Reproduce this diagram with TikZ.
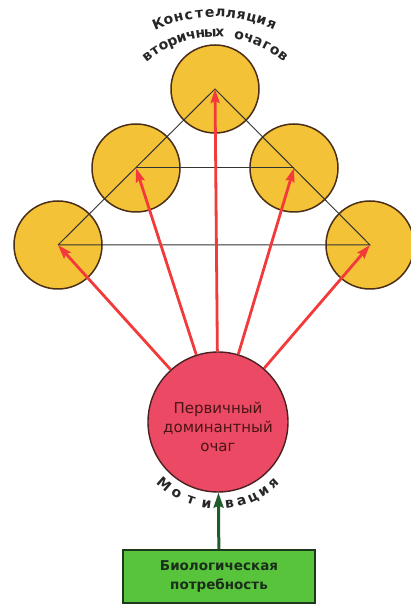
\documentclass[tikz,border=0pt]{standalone}
\usepackage{fontspec}
\setmainfont{DejaVu Sans}
\usetikzlibrary{positioning, arrows.meta, calc}
\definecolor{focfill}{HTML}{F4C236}
\definecolor{focline}{HTML}{4A2E16}
\definecolor{domfill}{HTML}{EC4A64}
\definecolor{domline}{HTML}{4A2020}
\definecolor{domtext}{HTML}{4A1414}
\definecolor{needfill}{HTML}{58C43C}
\definecolor{needline}{HTML}{1E3A1E}
\definecolor{needtext}{HTML}{1A2E1A}
\definecolor{arrred}{HTML}{F23A3A}
\definecolor{arrgreen}{HTML}{1F5C2E}

\begin{document}
\begin{tikzpicture}[x=1pt, y=1pt,
  foc/.style={circle, draw=focline, line width=1.5pt, fill=focfill, minimum size=88pt, inner sep=0pt},
  dom/.style={circle, draw=domline, line width=1.4pt, fill=domfill, minimum size=140pt, inner sep=0pt},
  domlbl/.style={align=center, text=domtext, font=\fontsize{15}{19}\selectfont},
  need/.style={draw=needline, line width=1.8pt, fill=needfill, minimum width=192pt, minimum height=53pt,
    align=center, text=needtext, font=\fontsize{13.5}{19}\selectfont\bfseries},
  link/.style={draw=black!80, line width=1pt},
  arr/.style={draw=arrred, line width=2.8pt, -{Stealth[length=14pt, width=9pt, inset=2pt]}},
  curv/.style={anchor=base, inner sep=0pt, text=black!85, font=\fontsize{14}{18}\selectfont\bfseries}]
  \useasboundingbox (0,0) rectangle (411,604);
  % secondary foci
  \node[foc] (fA) at (215,515) {};
  \node[foc] (fL2) at (136,436) {};
  \node[foc] (fR2) at (294,436) {};
  \node[foc] (fL1) at (58,359) {};
  \node[foc] (fR1) at (370,359) {};
  \draw[link] (fL1.center) -- (fA.center) -- (fR1.center) -- (fL1.center);
  \draw[link] (fL2.center) -- (fR2.center);
  % dominant focus and need
  \node[dom] (dom) at (218,182) {};
  \node[domlbl] (domtx) at ([yshift=-5pt]dom.center) {Первичный\\доминантный\\очаг};
  \node[need] (need) at (219,27.5) {Биологическая\\потребность};
  \foreach \f in {fL1, fL2, fA, fR2, fR1}
    \draw[arr] (dom) -- (\f.center);
  \draw[draw=arrgreen, line width=3pt, -{Stealth[length=15pt, width=10pt, inset=2pt]}] (need) -- (dom);
  % curved labels
  \coordinate (arc1) at (215,444);
  \coordinate (arc2) at (215,461);
  \foreach \ch [count=\i] in {К,о,н,с,т,е,л,л,я,ц,и,я}
    \node[curv, rotate={112.6-(\i-1)*4.11-90}] (kn\i) at ([shift={({112.6-(\i-1)*4.11}:143)}]arc1) {\ch};
  \foreach \ch [count=\i] in {в,т,о,р,и,ч,н,ы,х}
    \node[curv, rotate={128-(\i-1)*5.07-90}] (vt\i) at ([shift={({128-(\i-1)*5.07}:106)}]arc2) {\ch};
  \foreach \ch [count=\i from 11] in {о,ч,а,г,о,в}
    \node[curv, rotate={128-(\i-1)*5.07-90}] (oc\i) at ([shift={({128-(\i-1)*5.07}:106)}]arc2) {\ch};
  \foreach \ch/\ang [count=\i] in {М/229, о/240, т/251, и/262, в/278, а/286.5, ц/295, и/303.5, я/312}
    \node[curv, rotate=\ang+90] (mt\i) at ([shift={(\ang:87)}]dom.center) {\ch};
\end{tikzpicture}
\end{document}
